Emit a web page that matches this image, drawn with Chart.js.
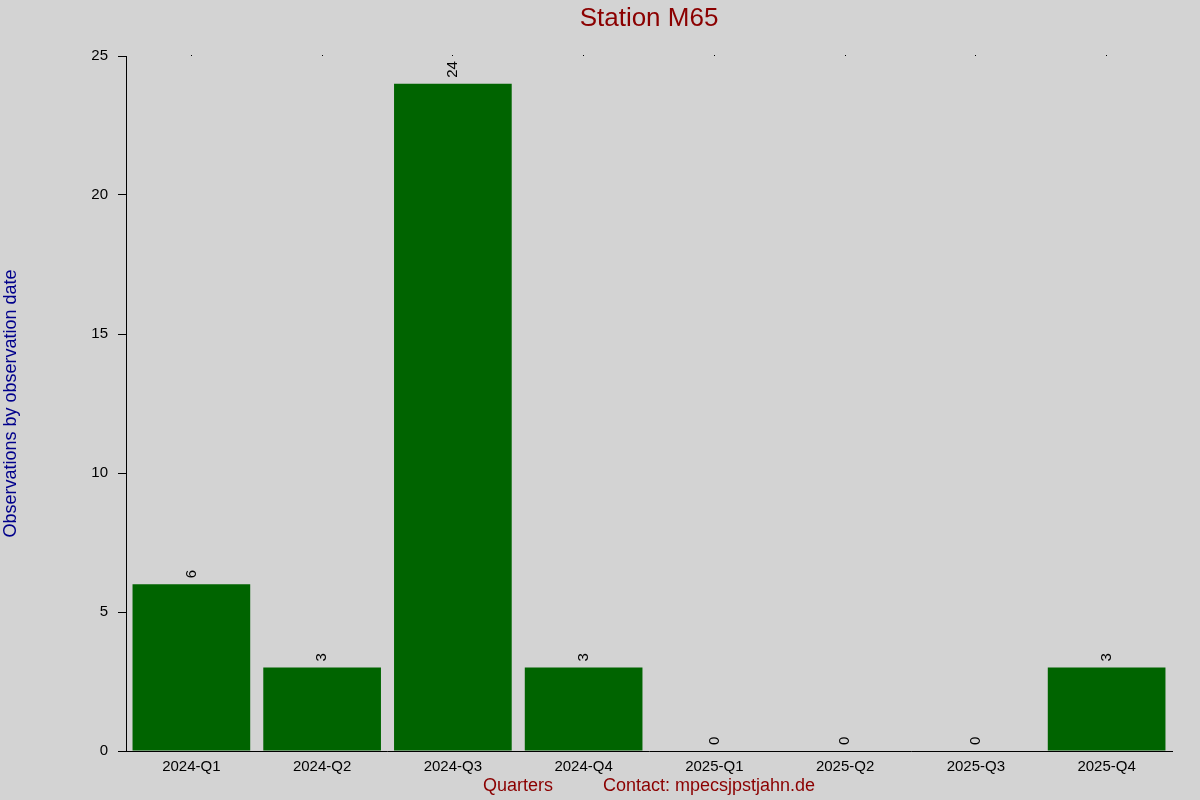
<!DOCTYPE html>
<html lang="en">
<head>
    <meta charset="UTF-8">
    <title>Station M65</title>
    <script src="https://cdn.jsdelivr.net/npm/chart.js@4.4.0/dist/chart.umd.min.js"></script>
    <style>
        html, body { margin: 0; padding: 0; background: #d3d3d3; }
        #wrap { width: 1200px; height: 800px; }
    </style>
</head>
<body>
<div id="wrap"><canvas id="stationChart"></canvas></div>
<script>
    const quarters = ['2024-Q1', '2024-Q2', '2024-Q3', '2024-Q4', '2025-Q1', '2025-Q2', '2025-Q3', '2025-Q4'];
    const observations = [6, 3, 24, 3, 0, 0, 0, 3];
    const yTicks = [0, 5, 10, 15, 20, 25];

    const FONT = "'Liberation Sans', Arial, sans-serif";

    // value labels drawn vertically above each bar
    const barLabels = {
        id: 'barLabels',
        afterDatasetsDraw(chart) {
            const ctx = chart.ctx;
            const meta = chart.getDatasetMeta(0);
            ctx.save();
            ctx.font = '15px ' + FONT;
            ctx.fillStyle = '#000';
            ctx.textAlign = 'left';
            ctx.textBaseline = 'middle';
            meta.data.forEach((bar, i) => {
                ctx.save();
                ctx.translate(bar.x, bar.y - 6);
                ctx.rotate(-Math.PI / 2);
                ctx.fillText(String(observations[i]), 0, 0);
                ctx.restore();
            });
            ctx.restore();
        }
    };

    new Chart(document.getElementById('stationChart'), {
        type: 'bar',
        data: {
            labels: quarters,
            datasets: [{
                data: observations,
                backgroundColor: '#006400',
                borderWidth: 0,
                barPercentage: 0.9,
                categoryPercentage: 1.0
            }]
        },
        options: {
            responsive: true,
            maintainAspectRatio: false,
            animation: false,
            layout: { padding: { left: 0, right: 28, top: 0, bottom: 0 } },
            plugins: {
                legend: { display: false },
                tooltip: { enabled: false },
                title: {
                    display: true,
                    fullSize: false,
                    text: 'Station M65',
                    color: '#8b0000',
                    font: { family: FONT, size: 26, weight: 'normal' },
                    padding: { top: 3, bottom: 0 }
                }
            },
            scales: {
                x: {
                    position: 'bottom',
                    offset: true,
                    grid: { display: true, drawOnChartArea: false, drawTicks: false },
                    border: { display: true, color: '#000', width: 1 },
                    ticks: { color: '#000', font: { family: FONT, size: 15 }, padding: 7, maxRotation: 0, autoSkip: false },
                    title: {
                        display: true,
                        text: 'Quarters          Contact: mpecsjpstjahn.de',
                        color: '#8b0000',
                        font: { family: FONT, size: 18 },
                        padding: { top: 0, bottom: 3 }
                    },
                    afterFit(scale) { scale.height = 49; }
                },
                x2: {
                    type: 'category',
                    position: 'top',
                    offset: true,
                    grid: { display: true, drawOnChartArea: false, offset: false, tickLength: 1, color: '#000' },
                    border: { display: false },
                    ticks: { display: false },
                    afterFit(scale) { scale.height = 21.8; }
                },
                y: {
                    min: 0,
                    max: 25,
                    afterBuildTicks(scale) { scale.ticks = yTicks.map(v => ({ value: v })); },
                    grid: { display: true, drawOnChartArea: false, tickLength: 8, color: '#000' },
                    border: { display: true, color: '#000', width: 1 },
                    ticks: { color: '#000', font: { family: FONT, size: 15 }, padding: 10 },
                    title: {
                        display: true,
                        text: 'Observations by observation date',
                        color: '#00008b',
                        font: { family: FONT, size: 18 },
                        padding: { top: 0, bottom: 0 }
                    },
                    afterFit(scale) { scale.width = 126; }
                }
            }
        },
        plugins: [barLabels]
    });
</script>
</body>
</html>
